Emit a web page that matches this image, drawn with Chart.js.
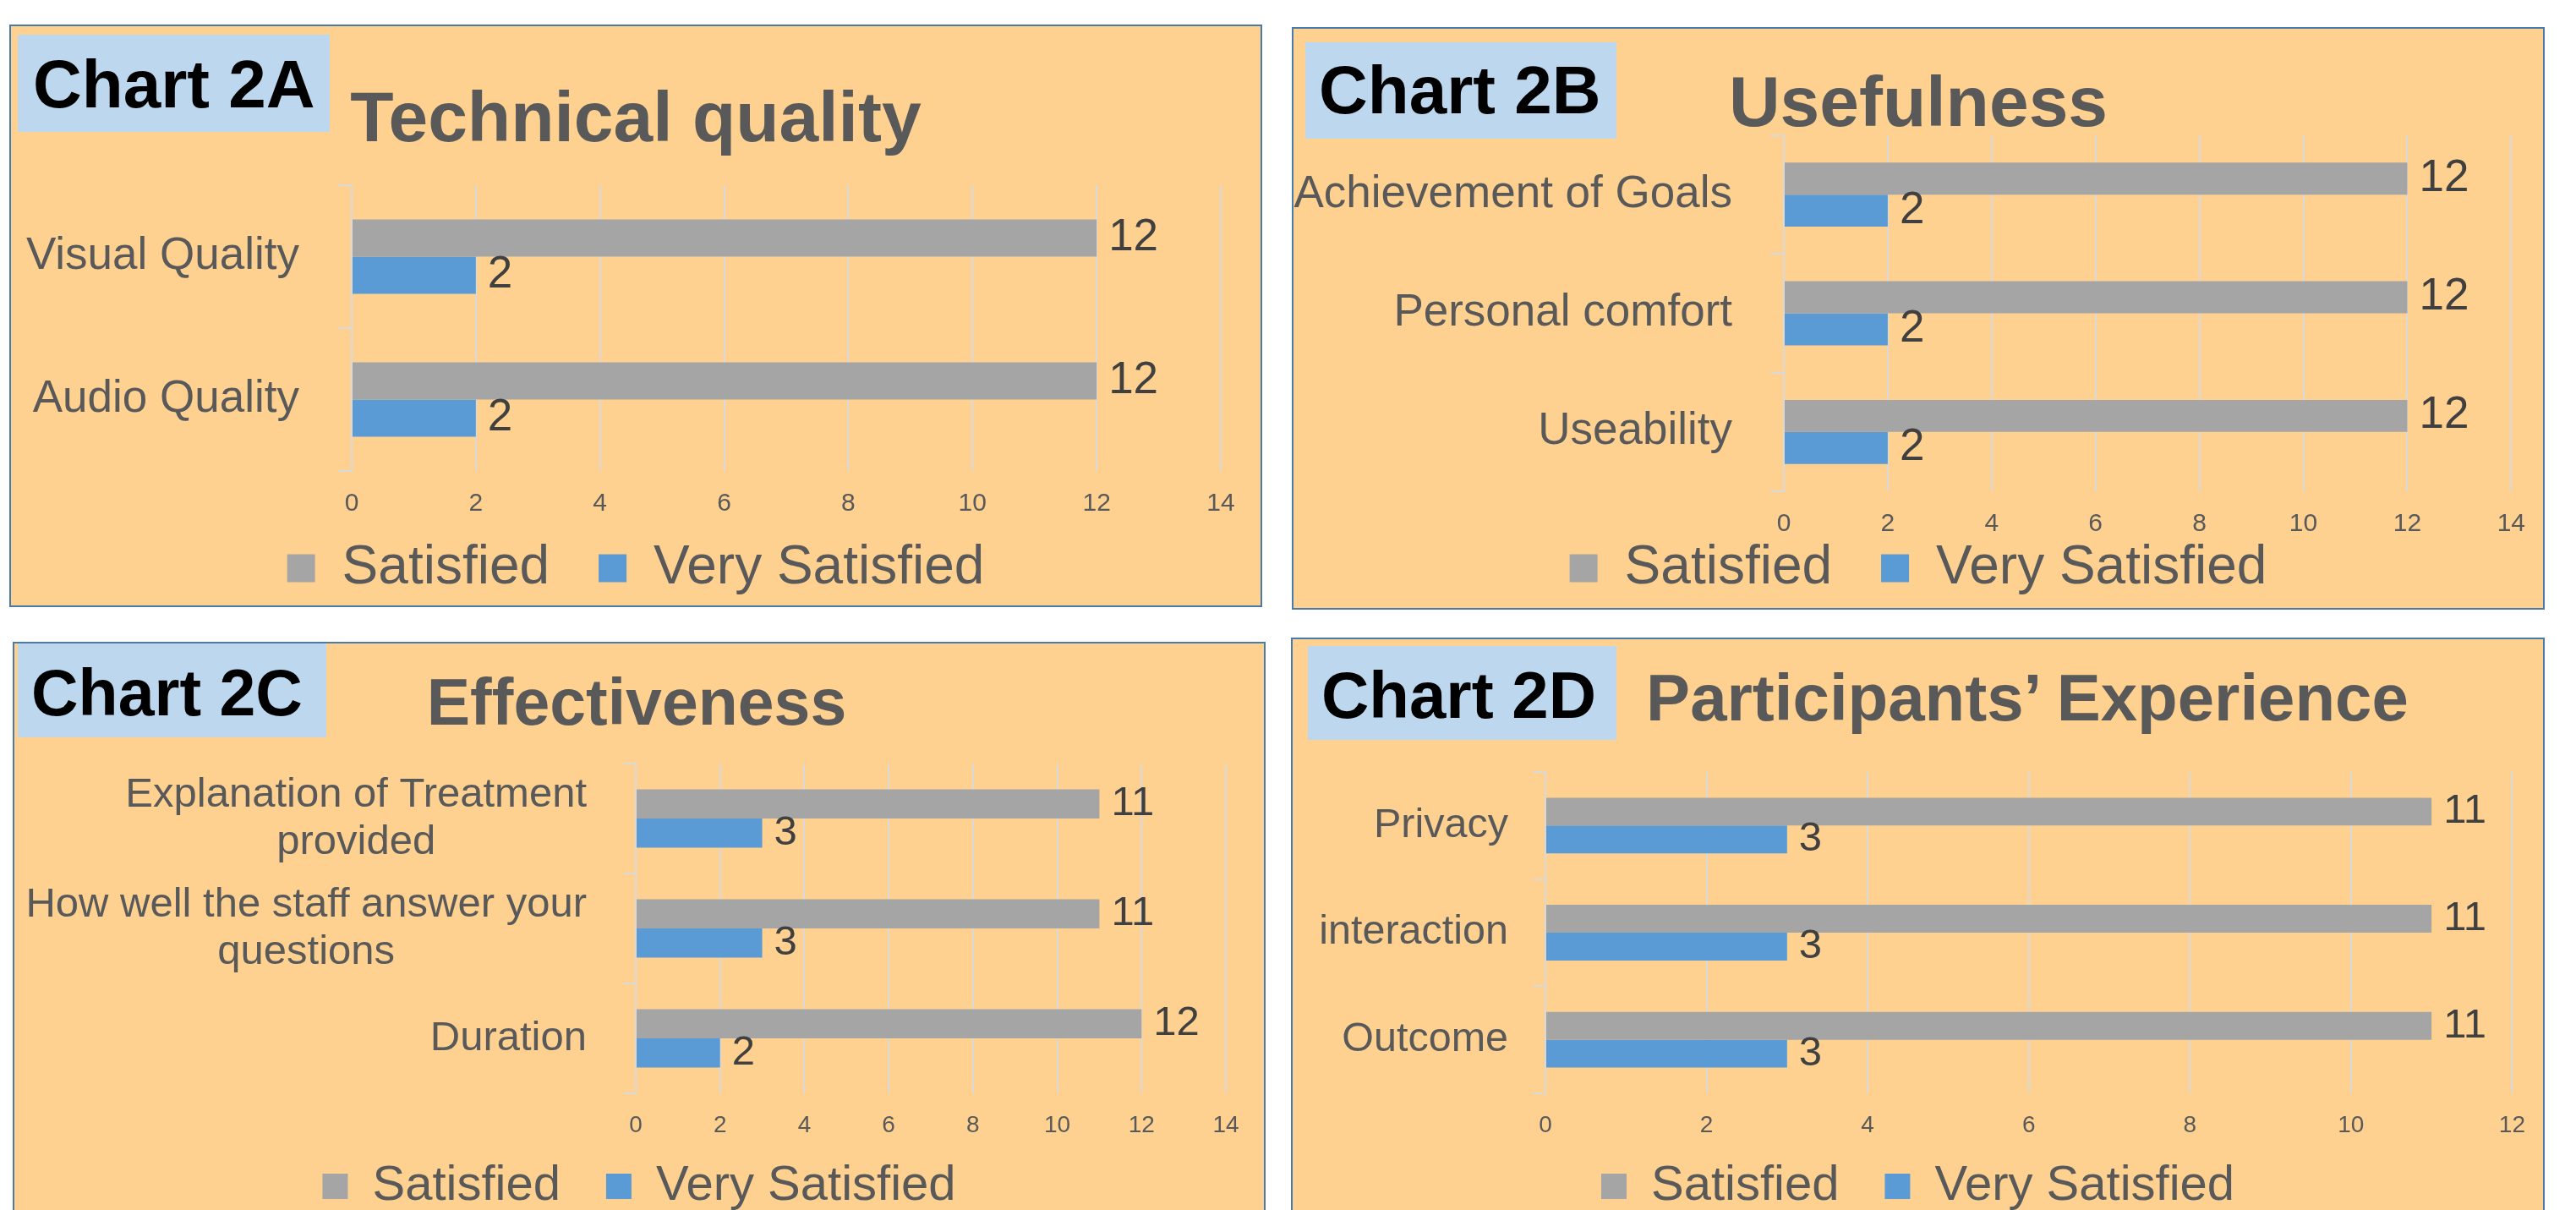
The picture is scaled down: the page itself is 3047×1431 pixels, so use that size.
<!DOCTYPE html>
<html>
<head>
<meta charset="utf-8">
<script src="https://cdn.jsdelivr.net/npm/chart.js@4.4.1/dist/chart.umd.min.js"></script>
<style>
  html, body { margin:0; padding:0; background:#ffffff; overflow:hidden; width:3047px; height:1431px; }
  .panel { position:absolute; box-sizing:border-box; border:2px solid #4A7AAB; background:#FED190; overflow:hidden; }
  .panel canvas { position:absolute; left:0; top:0; }
  .tag { position:absolute; background:#BDD7EE; }
  .txt { position:absolute; white-space:nowrap; font-family:'Liberation Sans', Arial, sans-serif; font-weight:bold; line-height:1; }
</style>
</head>
<body>
<script>
// ---------------- DATA ----------------
const seriesNames = ["Satisfied", "Very Satisfied"];

const catsA = ["Visual Quality", "Audio Quality"];
const satisfiedA = [12, 12];
const verySatisfiedA = [2, 2];
const xTicksA = [0, 2, 4, 6, 8, 10, 12, 14];

const catsB = ["Achievement of Goals", "Personal comfort", "Useability"];
const satisfiedB = [12, 12, 12];
const verySatisfiedB = [2, 2, 2];
const xTicksB = [0, 2, 4, 6, 8, 10, 12, 14];

const catsC = [["Explanation of Treatment", "provided"], ["How well the staff answer your", "questions"], "Duration"];
const satisfiedC = [11, 11, 12];
const verySatisfiedC = [3, 3, 2];
const xTicksC = [0, 2, 4, 6, 8, 10, 12, 14];

const catsD = ["Privacy", "interaction", "Outcome"];
const satisfiedD = [11, 11, 11];
const verySatisfiedD = [3, 3, 3];
const xTicksD = [0, 2, 4, 6, 8, 10, 12];

const tagTexts = ["Chart 2A", "Chart 2B", "Chart 2C", "Chart 2D"];
const titleTexts = ["Technical quality", "Usefulness", "Effectiveness", "Participants\u2019 Experience"];

// ---------------- STYLE / LAYOUT ----------------
const FONT = "'Liberation Sans', Arial, sans-serif";
const GRAY = '#A5A5A5', BLUE = '#5B9BD5', GRID = '#D9D9D9', TXT = '#595959', VAL = '#404040';
Chart.defaults.font.family = FONT;

const panels = [
  { left:11, top:29, w:1482, h:689, plot:{l:416, r:1444, t:219, b:557}, legendY:672,
    tickPad:21, yPad:46, tl:16, fy:53, fv:53, fl:64, box:33, ft:30, lpad:58, cat:0.52, voff:14,
    tag:{l:21, t:41, w:369, h:115, tx:39, base:128, fs:80}, title:{cx:752, base:167, fs:84},
    cats:catsA, s1:satisfiedA, s2:verySatisfiedA, ticks:xTicksA, multi:false },
  { left:1528, top:32, w:1482, h:689, plot:{l:2110, r:2979, t:160, b:583}, legendY:672,
    tickPad:21, yPad:45, tl:16, fy:53, fv:53, fl:64, box:33, ft:30, lpad:58, cat:0.54, voff:14,
    tag:{l:1544, t:50, w:368, h:114, tx:1560, base:135, fs:80}, title:{cx:2269, base:149, fs:84},
    cats:catsB, s1:satisfiedB, s2:verySatisfiedB, ticks:xTicksB, multi:false },
  { left:15, top:759, w:1482, h:700, plot:{l:752, r:1450, t:903, b:1293}, legendY:1403,
    tickPad:21, yPad:44, tl:14, fy:49, fv:49, fl:58, box:30, ft:28, lpad:54, cat:0.53, voff:14,
    tag:{l:21, t:761, w:365, h:111, tx:37, base:846, fs:77}, title:{cx:753, base:857, fs:77},
    cats:catsC, s1:satisfiedC, s2:verySatisfiedC, ticks:xTicksC, multi:true, lh:56 },
  { left:1527, top:754, w:1483, h:700, plot:{l:1828, r:2973, t:913, b:1293}, legendY:1403,
    tickPad:21, yPad:29, tl:15, fy:48.5, fv:49, fl:58, box:30, ft:28, lpad:54, cat:0.52, voff:14,
    tag:{l:1547, t:764, w:365, h:111, tx:1563, base:849, fs:78}, title:{cx:2398, base:852, fs:78},
    cats:catsD, s1:satisfiedD, s2:verySatisfiedD, ticks:xTicksD, multi:false }
];

// tick labels of the axes are not clipped to their (tight) axis boxes
const noLabelClip = {
  id: 'noLabelClip',
  beforeDraw(chart) {
    Object.values(chart.scales).forEach(s => { s._computeLabelArea = () => undefined; });
  }
};

// value labels at bar ends
const valueLabels = {
  id: 'valueLabels',
  afterDatasetsDraw(chart, args, o) {
    const ctx = chart.ctx;
    ctx.save();
    ctx.font = o.size + 'px ' + FONT;
    ctx.fillStyle = o.color;
    ctx.textAlign = 'left';
    ctx.textBaseline = 'middle';
    chart.data.datasets.forEach((ds, di) => {
      chart.getDatasetMeta(di).data.forEach((el, i) => {
        ctx.fillText(String(ds.data[i]), el.x + o.offset, el.y);
      });
    });
    ctx.restore();
  }
};

// Excel-like category labels: block right-aligned, lines centred inside the block
const blockLabels = {
  id: 'blockLabels',
  afterDraw(chart, args, o) {
    if (!o || !o.enabled) return;
    const ys = chart.scales.y, ctx = chart.ctx;
    ctx.save();
    ctx.font = o.size + 'px ' + FONT;
    ctx.fillStyle = o.color;
    ctx.textAlign = 'center';
    ctx.textBaseline = 'middle';
    const right = chart.chartArea.left - o.tick - o.pad;
    chart.data.labels.forEach((lab, i) => {
      const lines = Array.isArray(lab) ? lab : [lab];
      const w = Math.max(...lines.map(l => ctx.measureText(l).width));
      const cx = right - w / 2;
      const cy = ys.getPixelForTick(i);
      lines.forEach((l, k) => ctx.fillText(l, cx, cy + (k - (lines.length - 1) / 2) * o.lh));
    });
    ctx.restore();
  }
};

panels.forEach((p, idx) => {
  const panel = document.createElement('div');
  panel.className = 'panel';
  Object.assign(panel.style, { left: p.left + 'px', top: p.top + 'px', width: p.w + 'px', height: p.h + 'px' });
  document.body.appendChild(panel);
  const innerL = p.left + 2, innerT = p.top + 2, W = p.w - 4, H = p.h - 4;
  const canvas = document.createElement('canvas');
  canvas.width = W; canvas.height = H;
  canvas.style.width = W + 'px'; canvas.style.height = H + 'px';
  panel.appendChild(canvas);

  const T = { left: p.plot.l - innerL, right: p.plot.r - innerL, top: p.plot.t - innerT, bottom: p.plot.b - innerT, legend: p.legendY - innerT };
  const P = W - T.right;
  const geo = { yW: T.left - P, xH: 60 };

  const chart = new Chart(canvas, {
    type: 'bar',
    data: {
      labels: p.cats,
      datasets: [
        { label: seriesNames[0], data: p.s1, backgroundColor: GRAY, categoryPercentage: p.cat, barPercentage: 1.0 },
        { label: seriesNames[1], data: p.s2, backgroundColor: BLUE, categoryPercentage: p.cat, barPercentage: 1.0 }
      ]
    },
    options: {
      indexAxis: 'y',
      responsive: false,
      animation: false,
      devicePixelRatio: 1,
      layout: { padding: { left: P, right: P, top: T.top, bottom: 10 } },
      scales: {
        x: {
          min: p.ticks[0], max: p.ticks[p.ticks.length - 1],
          ticks: { stepSize: p.ticks[1] - p.ticks[0], color: TXT, font: { size: p.ft }, padding: p.tickPad },
          grid: { color: GRID, lineWidth: 2, drawTicks: false },
          border: { display: false },
          afterFit: s => { s.height = geo.xH; }
        },
        y: {
          ticks: { display: !p.multi, color: TXT, font: { size: p.fy }, padding: p.yPad },
          grid: { drawOnChartArea: false, drawTicks: true, tickLength: p.tl, color: GRID, lineWidth: 2, offset: true },
          border: { display: true, color: GRID, width: 2 },
          afterFit: s => { s.width = geo.yW; }
        }
      },
      plugins: {
        title: { display: false },
        tooltip: { enabled: false },
        legend: {
          position: 'bottom',
          labels: { color: TXT, font: { size: p.fl }, boxWidth: p.box, boxHeight: p.box, padding: p.lpad }
        },
        valueLabels: { size: p.fv, color: VAL, offset: p.voff },
        blockLabels: { enabled: p.multi, size: p.fy, color: TXT, tick: p.tl, pad: p.yPad, lh: p.lh || 0 }
      }
    },
    plugins: [noLabelClip, valueLabels, blockLabels]
  });

  // calibrate layout so the plot area and legend land where the reference has them
  for (let k = 0; k < 2; k++) {
    const lg = chart.legend;
    const hb = lg.legendHitBoxes[0];
    const L = lg.height;
    const c = hb.top + hb.height / 2 - lg.top;
    const padB = H - L + c - T.legend;
    geo.xH = Math.max(1, H - padB - L - T.bottom);
    chart.options.layout.padding = { left: P, right: P, top: chart.options.layout.padding.top + (T.top - chart.chartArea.top), bottom: padB };
    geo.yW += T.left - chart.chartArea.left;
    chart.update('none');
  }

  // "Chart 2X" tag box
  const tag = document.createElement('div');
  tag.className = 'tag';
  Object.assign(tag.style, { left: p.tag.l + 'px', top: p.tag.t + 'px', width: p.tag.w + 'px', height: p.tag.h + 'px' });
  document.body.appendChild(tag);
  const tt = document.createElement('div');
  tt.className = 'txt';
  tt.textContent = tagTexts[idx];
  Object.assign(tt.style, { left: p.tag.tx + 'px', top: (p.tag.base - 0.8465 * p.tag.fs) + 'px', fontSize: p.tag.fs + 'px', color: '#000000' });
  document.body.appendChild(tt);

  // title
  const ti = document.createElement('div');
  ti.className = 'txt';
  ti.textContent = titleTexts[idx];
  Object.assign(ti.style, { left: (p.title.cx - 800) + 'px', width: '1600px', textAlign: 'center', top: (p.title.base - 0.8465 * p.title.fs) + 'px', fontSize: p.title.fs + 'px', color: TXT });
  document.body.appendChild(ti);
});
</script>
</body>
</html>
